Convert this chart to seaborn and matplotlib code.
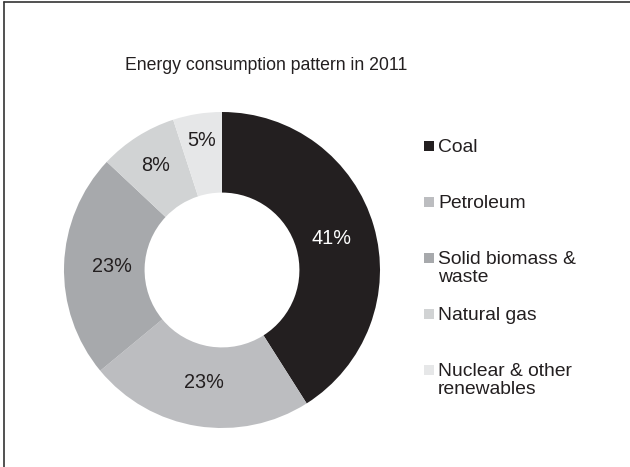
import numpy as np
import matplotlib
matplotlib.use("Agg")
import matplotlib.pyplot as plt
import seaborn as sns
from matplotlib.patches import Rectangle
from matplotlib.lines import Line2D

sns.set_style("white")
plt.rcParams['font.family'] = ['Liberation Sans', 'DejaVu Sans']

title = "Energy consumption pattern in 2011"
categories = ["Coal", "Petroleum", "Solid biomass &\nwaste", "Natural gas", "Nuclear & other\nrenewables"]
shares = [41, 23, 23, 8, 5]
pct_labels = ["41%", "23%", "23%", "8%", "5%"]
colors = sns.color_palette(["#231f20", "#bcbdc0", "#a7a9ac", "#d1d3d4", "#e6e7e8"])
label_colors = ["white", "#231f20", "#231f20", "#231f20", "#231f20"]
label_radii = [0.72, 0.72, 0.70, 0.78, 0.83]

W, H = 630, 467
fig = plt.figure(figsize=(W / 100, H / 100), dpi=100)

# pie axes: center (222, 270) px, radius 158 px
cx, cy, r = 222, 270, 158
ax = fig.add_axes([(cx - r) / W, (H - cy - r) / H, 2 * r / W, 2 * r / H])
wedges, _ = ax.pie(shares, colors=colors, startangle=90, counterclock=False,
                   radius=1.0, wedgeprops=dict(width=0.51, edgecolor="none", linewidth=0))
ax.set_xlim(-1, 1)
ax.set_ylim(-1, 1)
ax.set_aspect("equal")
ax.axis("off")

for w, lab, lc, rr in zip(wedges, pct_labels, label_colors, label_radii):
    ang = np.deg2rad((w.theta1 + w.theta2) / 2)
    ax.text(rr * np.cos(ang), rr * np.sin(ang), lab, ha="center", va="center",
            fontsize=14.3, color=lc)

# title
fig.text(266.5 / W, 1 - 70 / H, title, ha="center", va="baseline", fontsize=12.7, color="#231f20")

# legend
for i, (cat, col) in enumerate(zip(categories, colors)):
    base = 152 + i * 56
    fig.add_artist(Rectangle((423.5 / W, 1 - (base - 1) / H), 10 / W, 10 / H,
                             transform=fig.transFigure, facecolor=col, edgecolor="none"))
    for j, line in enumerate(cat.split("\n")):
        fig.text(438 / W, 1 - (base + j * 18) / H, line, ha="left", va="baseline",
                 fontsize=13.9, color="#231f20")

# frame lines (left and top)
fig.add_artist(Line2D([4 / W, 4 / W], [0, 1 - 2 / H], transform=fig.transFigure, color="#333333", lw=1.2))
fig.add_artist(Line2D([4 / W, 1], [1 - 2 / H, 1 - 2 / H], transform=fig.transFigure, color="#333333", lw=1.2))

fig.savefig("out.png", dpi=100)
